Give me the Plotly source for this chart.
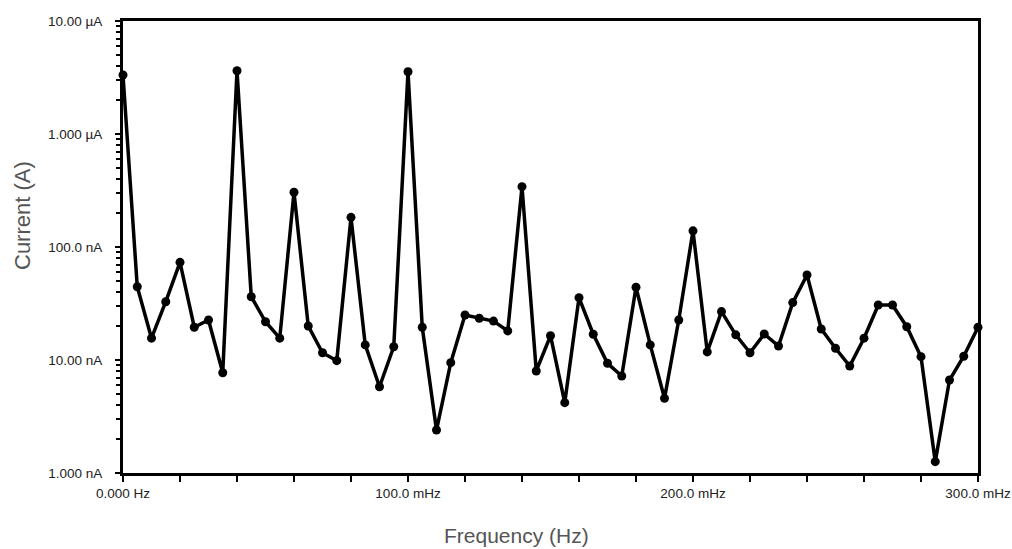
import plotly.graph_objects as go

# Spectrum sampled every 5 mHz from 0 to 300 mHz
freq_mhz = [i * 5 for i in range(61)]
current_na = [
    3327, 44.5, 15.6, 32.8, 73.2, 19.5, 22.6, 7.72, 3632, 36.3,
    21.8, 15.6, 305, 20.0, 11.6, 9.86, 183, 13.6, 5.80, 13.1,
    3558, 19.5, 2.40, 9.47, 25.0, 23.4, 22.1, 18.1, 342, 8.0,
    16.4, 4.19, 35.6, 16.9, 9.35, 7.22, 44.0, 13.6, 4.58, 22.6,
    139, 11.8, 26.8, 16.7, 11.6, 17.0, 13.3, 32.2, 56.5, 18.8,
    12.7, 8.85, 15.6, 30.7, 30.7, 19.7, 10.7, 1.26, 6.65, 10.8,
    19.5,
]

x_tick_vals = [0.0, 0.1, 0.2, 0.3]
x_tick_text = ["0.000 Hz", "100.0 mHz", "200.0 mHz", "300.0 mHz"]
y_tick_vals = [1e-9, 1e-8, 1e-7, 1e-6, 1e-5]
y_tick_text = ["1.000 nA", "10.00 nA", "100.0 nA", "1.000 µA", "10.00 µA"]

freq_hz = [f / 1000 for f in freq_mhz]
current_a = [c * 1e-9 for c in current_na]

W, H = 1012, 549
L, R, T, B = 123, 34, 21, 76

tick_font = dict(family="Liberation Sans Narrow, Arial Narrow, Liberation Sans, sans-serif",
                 size=13.5, color="#222")

fig = go.Figure(
    go.Scatter(
        x=freq_hz,
        y=current_a,
        mode="lines+markers",
        line=dict(color="black", width=3.5),
        marker=dict(color="black", size=9),
        cliponaxis=False,
    )
)

fig.update_layout(
    width=W,
    height=H,
    margin=dict(l=L, r=R, t=T, b=B),
    paper_bgcolor="white",
    plot_bgcolor="white",
    showlegend=False,
)

fig.update_xaxes(
    range=[0, 0.3],
    tickvals=x_tick_vals,
    ticktext=x_tick_text,
    ticks="outside",
    ticklen=6,
    tickwidth=2,
    tickcolor="black",
    minor=dict(dtick=0.02, tick0=0, ticks="outside", ticklen=6, tickwidth=2, tickcolor="black"),
    showline=True,
    linecolor="black",
    linewidth=3,
    mirror=True,
    showgrid=False,
    zeroline=False,
    tickfont=tick_font,
    automargin=False,
)

fig.update_yaxes(
    type="log",
    range=[-9, -5],
    tickvals=y_tick_vals,
    ticktext=y_tick_text,
    ticks="outside",
    ticklen=5,
    tickwidth=2,
    tickcolor="black",
    ticklabelstandoff=10,
    minor=dict(dtick="D1", ticks="outside", ticklen=4, tickwidth=2, tickcolor="black"),
    showline=True,
    linecolor="black",
    linewidth=3,
    mirror=True,
    showgrid=False,
    zeroline=False,
    tickfont=tick_font,
    automargin=False,
)

# Axis titles placed in pixel terms relative to the plotting area
pw, ph = W - L - R, H - T - B
fig.add_annotation(
    text="Frequency (Hz)",
    xref="paper", yref="paper",
    x=(516 - L) / pw, y=-(535 - (H - B)) / ph,
    xanchor="center", yanchor="middle",
    showarrow=False,
    font=dict(family="Liberation Sans, Arial, sans-serif", size=21, color="#555"),
)
fig.add_annotation(
    text="Current (A)",
    xref="paper", yref="paper",
    x=-(L - 23) / pw, y=((H - B) - 216) / ph,
    xanchor="center", yanchor="middle",
    textangle=-90,
    showarrow=False,
    font=dict(family="Liberation Sans, Arial, sans-serif", size=22, color="#555"),
)

fig.write_html("out.html")
